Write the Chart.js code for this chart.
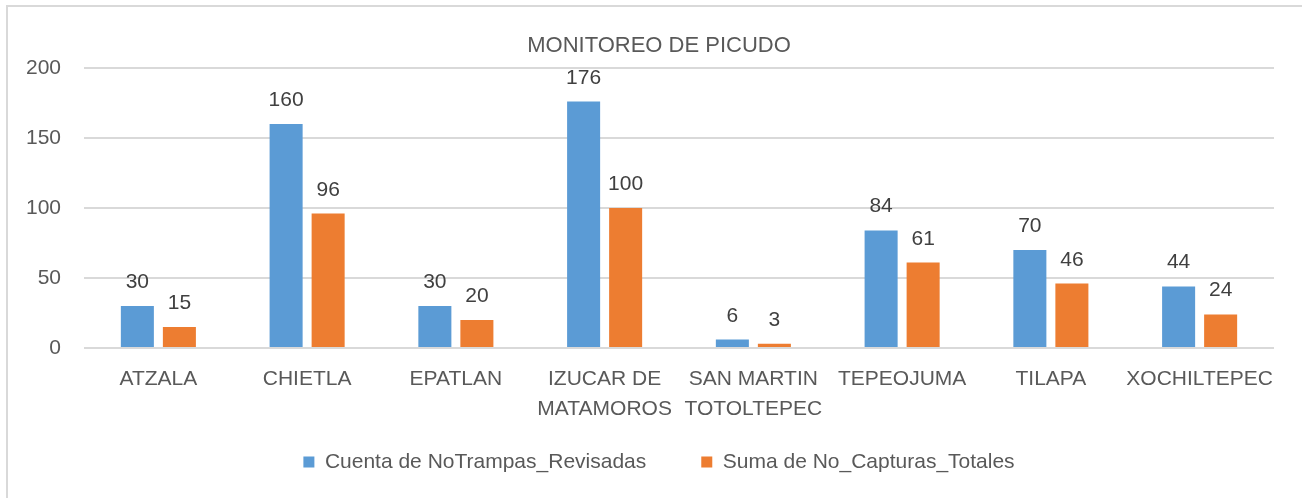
<!DOCTYPE html>
<html>
<head>
<meta charset="utf-8">
<script src="https://cdn.jsdelivr.net/npm/chart.js@4/dist/chart.umd.min.js"></script>
<style>
  html, body { margin: 0; padding: 0; background: #fff; }
  #wrap { position: relative; width: 1302px; height: 498px; overflow: hidden; }
  #frame { position: absolute; left: 6px; top: 5px; width: 1400px; height: 600px;
           border-left: 2px solid #d9d9d9; border-top: 2px solid #d9d9d9; }
  canvas { position: absolute; left: 0; top: 0; }
</style>
</head>
<body>
<div id="wrap">
  <div id="frame"></div>
  <canvas id="c" width="1302" height="498"></canvas>
</div>
<script>
const chartTitle = 'MONITOREO DE PICUDO';
const categories = [
  'ATZALA', 'CHIETLA', 'EPATLAN', ['IZUCAR DE', 'MATAMOROS'],
  ['SAN MARTIN', 'TOTOLTEPEC'], 'TEPEOJUMA', 'TILAPA', 'XOCHILTEPEC'
];
const seriesNames = ['Cuenta de NoTrampas_Revisadas', 'Suma de No_Capturas_Totales'];
const trampasRevisadas = [30, 160, 30, 176, 6, 84, 70, 44];
const capturasTotales = [15, 96, 20, 100, 3, 61, 46, 24];
const yTicks = [0, 50, 100, 150, 200];

const FONT = "'Liberation Sans', Arial, sans-serif";
const TEXT = '#595959';

const valueLabels = {
  id: 'valueLabels',
  afterDatasetsDraw(chart) {
    const ctx = chart.ctx;
    ctx.save();
    ctx.font = '21px ' + FONT;
    ctx.fillStyle = '#404040';
    ctx.textAlign = 'center';
    ctx.textBaseline = 'alphabetic';
    chart.data.datasets.forEach((ds, i) => {
      const meta = chart.getDatasetMeta(i);
      meta.data.forEach((bar, j) => {
        ctx.fillText(String(ds.data[j]), bar.x, bar.y - 18);
      });
    });
    ctx.restore();
  }
};

// let tick labels extend beyond their (resized) axis boxes
function noLabelClip(scale) { scale._computeLabelArea = () => undefined; }

new Chart(document.getElementById('c'), {
  type: 'bar',
  data: {
    labels: categories,
    datasets: [
      { label: seriesNames[0], data: trampasRevisadas, backgroundColor: '#5B9BD5',
        categoryPercentage: 0.565, barPercentage: 0.786 },
      { label: seriesNames[1], data: capturasTotales, backgroundColor: '#ED7D31',
        categoryPercentage: 0.565, barPercentage: 0.786 }
    ]
  },
  options: {
    responsive: false,
    animation: false,
    devicePixelRatio: 1,
    layout: { padding: { top: 10, left: 44, right: 28, bottom: 15.5 } },
    plugins: {
      title: {
        display: true, text: chartTitle, color: TEXT,
        font: { family: FONT, size: 22, weight: 'normal', lineHeight: 1.2 },
        padding: { top: 23, bottom: 8.6 }
      },
      legend: {
        position: 'bottom',
        labels: {
          color: TEXT, boxWidth: 11, boxHeight: 11, padding: 55,
          font: { family: FONT, size: 21 }
        }
      },
      tooltip: { enabled: false }
    },
    scales: {
      x: {
        grid: { display: false, drawTicks: false },
        border: { display: false },
        ticks: { color: TEXT, padding: 16, maxRotation: 0, autoSkip: false,
                 font: { family: FONT, size: 21, lineHeight: 30 / 21 } },
        afterFit(scale) { scale.height = 48.5; noLabelClip(scale); }
      },
      y: {
        min: 0, max: 200,
        afterBuildTicks(scale) { scale.ticks = yTicks.map(v => ({ value: v })); },
        grid: { color: '#d9d9d9', lineWidth: 2, drawTicks: false },
        border: { display: false },
        ticks: { color: TEXT, padding: 23, font: { family: FONT, size: 21 } },
        afterFit(scale) { scale.width = 40; noLabelClip(scale); }
      }
    }
  },
  plugins: [valueLabels]
});
</script>
</body>
</html>
